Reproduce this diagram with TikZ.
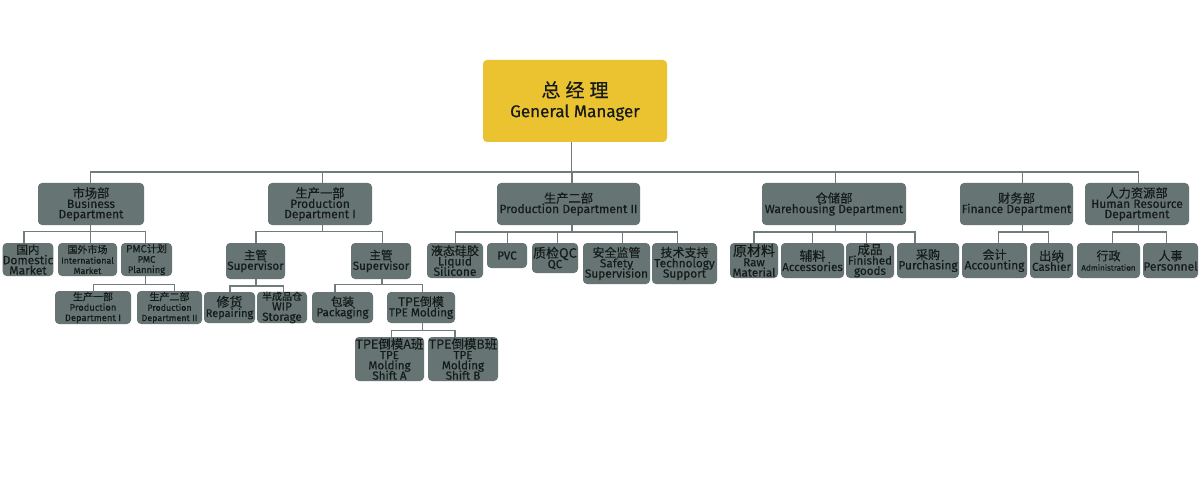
\documentclass[tikz,border=0pt]{standalone}
\usepackage{fontspec}
\setmainfont{Fira Sans}[FakeBold=0.35]
\newfontfamily\cjk{Noto Sans CJK SC}[FakeBold=0.35]
\newcommand\zh[2]{{\cjk\fontsize{#1}{#1}\selectfont #2}}
\newcommand\orgconn[5]{\draw[conn] ([xshift=#2pt]#1.south) -- ++(0,#3) -| ([xshift=#5pt]#4.north);}
\definecolor{boxgray}{HTML}{667573}
\definecolor{linegray}{HTML}{6F7C7B}
\definecolor{txt}{HTML}{151A1A}
\definecolor{gmyellow}{HTML}{EBC230}
\tikzset{
  box/.style={draw=none, fill=boxgray, rounded corners=4pt, inner sep=0pt, align=center, text=txt},
  fs/.style={font=\fontsize{#1}{10.3}\selectfont},
  conn/.style={draw=linegray, line width=1.4pt}
}
\begin{document}
\lineskiplimit=-30pt
\lineskip=0pt
\begin{tikzpicture}[x=1pt,y=-1pt]
\fill[white] (0,0) rectangle (1200,500);
\useasboundingbox (0,0) rectangle (1200,500);
% top
\node[box,fill=gmyellow,minimum width=184pt,minimum height=82pt,font=\fontsize{17}{20}\selectfont] (gm) at (575,101) {\zh{19}{总\hspace{5pt}经\hspace{5pt}理}\\General Manager};
% level 1
\node[box,fs=12,minimum width=106pt,minimum height=42pt] (biz) at (91,204) {\zh{12.3}{市场部}\\Business\\Department};
\node[box,fs=12,minimum width=104pt,minimum height=42pt] (pd1) at (320,204) {\zh{12.3}{生产一部}\\Production\\Department I};
\node[box,fs=12,minimum width=143pt,minimum height=42pt] (pd2) at (568.5,204) {\zh{12.3}{生产二部}\\Production Department II};
\node[box,fs=12,minimum width=144pt,minimum height=42pt] (wh) at (834,204) {\zh{12.3}{仓储部}\\Warehousing Department};
\node[box,fs=12,minimum width=113pt,minimum height=42pt] (fin) at (1016.5,204) {\zh{12.3}{财务部}\\Finance Department};
\node[box,fs=12,minimum width=104pt,minimum height=42pt] (hr) at (1137,204) {\zh{12.3}{人力资源部}\\Human Resource\\Department};
% business children
\node[box,fs=12,minimum width=50pt,minimum height=33pt] (dom) at (28,259.5) {\zh{11.5}{国内}\\Domestic\\Market};
\node[box,fs=8.9,minimum width=59pt,minimum height=33pt] (intl) at (87.5,259.5) {\zh{10}{国外市场}\\International\\Market};
\node[box,fs=9.4,minimum width=51pt,minimum height=33pt] (pmc) at (146.5,259.5) {\zh{10}{PMC计划}\\PMC\\Planning};
\node[box,fs=9.4,minimum width=76pt,minimum height=33pt] (pmca) at (93,307.5) {\zh{10}{生产一部}\\Production\\Department I};
\node[box,fs=8.9,minimum width=65pt,minimum height=33pt] (pmcb) at (169.5,307.5) {\zh{10}{生产二部}\\Production\\Department II};
% pd1 children
\node[box,fs=11.6,minimum width=59pt,minimum height=36pt] (supa) at (255.5,261) {\zh{11.5}{主管}\\Supervisor};
\node[box,fs=11.6,minimum width=60pt,minimum height=36pt] (supb) at (381,261) {\zh{11.5}{主管}\\Supervisor};
\node[box,fs=11,minimum width=51pt,minimum height=31pt] (rep) at (229.5,307.5) {\zh{13}{修货}\\Repairing};
\node[box,fs=11.6,minimum width=50pt,minimum height=31pt] (wip) at (282,307.5) {\zh{10}{半成品仓}\\WIP\\Storage};
\node[box,fs=11.6,minimum width=61pt,minimum height=31pt] (pack) at (342.5,307.5) {\zh{11.5}{包装}\\Packaging};
\node[box,fs=11.6,minimum width=68pt,minimum height=31pt] (tpe) at (421,307.5) {\zh{12}{TPE倒模}\\TPE Molding};
\node[box,fs=11.6,minimum width=69pt,minimum height=44pt] (tpea) at (389.5,359) {\zh{12.5}{TPE倒模A班}\\TPE\\Molding\\Shift A};
\node[box,fs=11.6,minimum width=70pt,minimum height=44pt] (tpeb) at (463,359) {\zh{12.5}{TPE倒模B班}\\TPE\\Molding\\Shift B};
% pd2 children
\node[box,fs=12,minimum width=56pt,minimum height=35pt] (liq) at (455,260.5) {\zh{12}{液态硅胶}\\Liquid\\Silicone};
\node[box,fs=11.6,minimum width=40pt,minimum height=25pt] (pvc) at (507,255.5) {PVC};
\node[box,fs=11.6,minimum width=46pt,minimum height=30pt] (qc) at (555,258) {\zh{13}{质检QC}\\QC};
\node[box,fs=11.8,minimum width=67pt,minimum height=41pt] (safe) at (616.5,263.5) {\zh{12}{安全监管}\\Safety\\Supervision};
\node[box,fs=11.8,minimum width=65pt,minimum height=41pt] (tech) at (684.5,263.5) {\zh{12}{技术支持}\\Technology\\Support};
% warehouse children
\node[box,fs=11.6,minimum width=48pt,minimum height=35pt] (raw) at (754,260.5) {\zh{14}{原材料}\\Raw\\Material};
\node[box,fs=11.6,minimum width=63pt,minimum height=35pt] (acc) at (812.5,260.5) {\zh{13}{辅料}\\Accessories};
\node[box,fs=11.6,minimum width=48pt,minimum height=35pt] (fg) at (870,260.5) {\zh{12.5}{成品}\\Finished\\goods};
\node[box,fs=12,minimum width=62pt,minimum height=35pt] (pur) at (928,260.5) {\zh{12}{采购}\\Purchasing};
% finance children
\node[box,fs=12,minimum width=65pt,minimum height=35pt] (acct) at (994.5,260.5) {\zh{12}{会计}\\Accounting};
\node[box,fs=11.6,minimum width=43pt,minimum height=35pt] (cash) at (1051.5,260.5) {\zh{12.5}{出纳}\\Cashier};
% hr children
\node[box,fs=8.1,minimum width=63pt,minimum height=35pt] (adm) at (1108.5,260.5) {\zh{12}{行政}\\Administration};
\node[box,fs=12,minimum width=55pt,minimum height=35pt] (per) at (1170.5,260.5) {\zh{12}{人事}\\Personnel};
% connectors
\orgconn{gm}{-3.3}{29.7}{biz}{-0.3}
\orgconn{gm}{-3.3}{29.7}{pd1}{2.7}
\orgconn{gm}{-3.3}{29.7}{pd2}{3.5}
\orgconn{gm}{-3.3}{29.7}{wh}{1.7}
\orgconn{gm}{-3.3}{29.7}{fin}{6}
\orgconn{gm}{-3.3}{29.7}{hr}{1.3}
\orgconn{biz}{-0.3}{6}{dom}{-4}
\orgconn{biz}{-0.3}{6}{intl}{3.2}
\orgconn{biz}{-0.3}{6}{pmc}{-0.8}
\orgconn{pmc}{-0.8}{8.5}{pmca}{0.7}
\orgconn{pmc}{-0.8}{8.5}{pmcb}{4.8}
\orgconn{pd1}{2.7}{6}{supa}{0.5}
\orgconn{pd1}{2.7}{6}{supb}{1.3}
\orgconn{supa}{0.5}{6.7}{rep}{0.5}
\orgconn{supa}{0.5}{6.7}{wip}{1.3}
\orgconn{supb}{1}{5}{pack}{-7.5}
\orgconn{supb}{1}{5}{tpe}{1.7}
\orgconn{tpe}{1.7}{7.5}{tpea}{2.2}
\orgconn{tpe}{1.7}{7.5}{tpeb}{-8}
\orgconn{pd2}{3.5}{6.7}{liq}{0.7}
\orgconn{pd2}{3.5}{6.7}{pvc}{0.3}
\orgconn{pd2}{3.5}{6.7}{qc}{2.3}
\orgconn{pd2}{3.5}{6.7}{safe}{5.8}
\orgconn{pd2}{3.5}{6.7}{tech}{-6.8}
\orgconn{wh}{1.7}{6.7}{raw}{0}
\orgconn{wh}{1.7}{6.7}{acc}{-0.2}
\orgconn{wh}{1.7}{6.7}{fg}{-3.3}
\orgconn{wh}{1.7}{6.7}{pur}{-13}
\orgconn{fin}{6}{6.7}{acct}{3.8}
\orgconn{fin}{6}{6.7}{cash}{-3.2}
\orgconn{hr}{1.3}{6.7}{adm}{4.2}
\orgconn{hr}{1.3}{6.7}{per}{-3.8}
\end{tikzpicture}
\end{document}
